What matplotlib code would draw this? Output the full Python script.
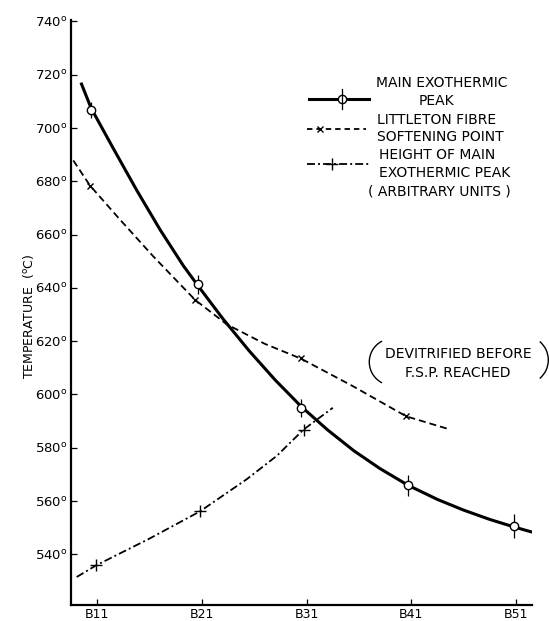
import matplotlib
matplotlib.use('Agg')
import matplotlib.pyplot as plt
from matplotlib.patches import Arc
import numpy as np

# categories on the x axis
samples = ["B11", "B21", "B31", "B41", "B51"]
pos = np.arange(len(samples))

# main exothermic peak (points with error bars), x as drawn (hand plotted)
peak_x = [-0.06, 0.96, 1.95, 2.97, 3.98]
peak_temp = [706.9, 641.3, 594.9, 565.9, 550.5]
peak_err = [3.0, 3.5, 3.5, 4.0, 4.5]
# drawn curve
peak_curve_x = [-0.156, -0.06, 0.153, 0.377, 0.6, 0.822, 0.96, 1.2, 1.45, 1.7,
                1.95, 2.2, 2.45, 2.7, 2.97, 3.25, 3.5, 3.75, 3.98, 4.185]
peak_curve_y = [717.0, 707.5, 692.3, 676.6, 661.8, 648.3, 640.9, 628.4, 616.4,
                605.4, 595.4, 586.7, 578.9, 572.2, 565.9, 560.6, 556.6, 553.1,
                550.3, 548.0]

# littleton fibre softening point (none for B51)
fsp_x = [-0.07, 0.934, 1.948, 2.951]
fsp_temp = [678.4, 635.5, 613.6, 591.8]
fsp_curve_x = [-0.229, -0.07, 0.217, 0.535, 0.934, 1.237, 1.6, 1.948, 2.447,
               2.951, 3.34]
fsp_curve_y = [687.8, 678.4, 665.6, 651.8, 635.5, 626.3, 619.0, 613.4, 603.0,
               591.8, 587.2]

# height of main exothermic peak (arbitrary units)
height_x = [-0.01, 0.98, 1.97]
height_val = [535.9, 556.1, 586.8]
height_curve_x = [-0.197, -0.01, 0.488, 0.98, 1.428, 1.716, 1.97, 2.25]
height_curve_y = [531.5, 535.9, 545.7, 556.1, 568.2, 577.0, 586.8, 595.0]

yticks = [540, 560, 580, 600, 620, 640, 660, 680, 700, 720, 740]

plt.rcParams['font.family'] = ['DejaVu Sans']
FS = 10

fig = plt.figure(figsize=(5.49, 6.21), dpi=100)
ax = fig.add_axes([70.7 / 549, 16 / 621, 461 / 549, 585 / 621])

ax.plot(peak_curve_x, peak_curve_y, color='black', lw=2.2, solid_capstyle='butt',
        solid_joinstyle='round')
ax.errorbar(peak_x, peak_temp, yerr=peak_err, fmt='o', ms=6, mfc='white',
            mec='black', mew=1.0, ecolor='black', elinewidth=0.9, capsize=0, zorder=3)

ax.plot(fsp_curve_x, fsp_curve_y, color='black', lw=1.3, dashes=(3.9, 2.2))
ax.plot(fsp_x, fsp_temp, ls='none', marker='x', ms=4.5, mew=1.0,
        color='black', zorder=3)

ax.plot(height_curve_x, height_curve_y, color='black', lw=1.3,
        dashes=(4.4, 1.7, 1.1, 1.7))
ax.plot(height_x, height_val, ls='none', marker='+', ms=8, mew=1.0,
        color='black', zorder=3)

ax.set_xlim(-0.254, 4.15)
ax.set_ylim(521, 740.5)
ax.set_xticks(pos)
ax.set_xticklabels(samples, fontsize=9)
ax.set_yticks(yticks)
ax.set_yticklabels([r"$\mathregular{%d^{o}}$" % v for v in yticks], fontsize=9.5)
ax.tick_params(direction='in', length=4, width=0.9, pad=2)
for s in ['top', 'right']:
    ax.spines[s].set_visible(False)
for s in ['left', 'bottom']:
    ax.spines[s].set_linewidth(1.6)

fig.text(29 / 549, 1 - 316 / 621, r"TEMPERATURE  $\mathregular{(^{o}C)}$",
         rotation=90, ha='center', va='center', fontsize=9)

# hand drawn key
T = ax.transAxes
ax.plot([0.517, 0.647], [0.8644, 0.8644], color='black', lw=2.2, transform=T)
ax.plot([0.588], [0.8644], marker='o', ms=6, mfc='white', mec='black', mew=1.0,
        transform=T, clip_on=False)
ax.plot([0.588, 0.588], [0.8644 - 0.017, 0.8644 + 0.017], color='black', lw=0.9,
        transform=T)
ax.text(0.6623, 0.8918, "MAIN EXOTHERMIC", transform=T, fontsize=FS, va='center')
ax.text(0.794, 0.862, "PEAK", transform=T, fontsize=FS, va='center', ha='center')

ax.plot([0.512, 0.6406], [0.8132, 0.8132], color='black', lw=1.3, dashes=(3.0, 2.2),
        transform=T)
ax.plot([0.5408], [0.8132], marker='x', ms=4.5, mew=1.0, color='black', transform=T)
ax.text(0.665, 0.829, "LITTLETON FIBRE", transform=T, fontsize=FS, va='center')
ax.text(0.665, 0.8005, "SOFTENING POINT", transform=T, fontsize=FS, va='center')

ax.plot([0.512, 0.6477], [0.7533, 0.7533], color='black', lw=1.3,
        dashes=(4.4, 1.7, 1.1, 1.7), transform=T)
ax.plot([0.5662], [0.7533], marker='+', ms=8, mew=1.0, color='black', transform=T)
ax.text(0.6688, 0.7692, "HEIGHT OF MAIN", transform=T, fontsize=FS, va='center')
ax.text(0.6688, 0.738, "EXOTHERMIC PEAK", transform=T, fontsize=FS, va='center')
ax.text(0.645, 0.7065, "( ARBITRARY UNITS )", transform=T, fontsize=FS, va='center')

# note for the missing B51 softening point
ax.text(0.841, 0.4285, "DEVITRIFIED BEFORE", transform=T, fontsize=FS,
        va='center', ha='center')
ax.text(0.8386, 0.396, "F.S.P. REACHED", transform=T, fontsize=FS,
        va='center', ha='center')
ax.add_patch(Arc((0.6987, 0.4154), 0.102, 0.0803, theta1=123, theta2=237,
                 transform=T, lw=1.0, clip_on=False))
ax.add_patch(Arc((0.9835, 0.4188), 0.105, 0.0827, theta1=-43, theta2=43,
                 transform=T, lw=1.0, clip_on=False))

fig.savefig("out.png", dpi=100)
